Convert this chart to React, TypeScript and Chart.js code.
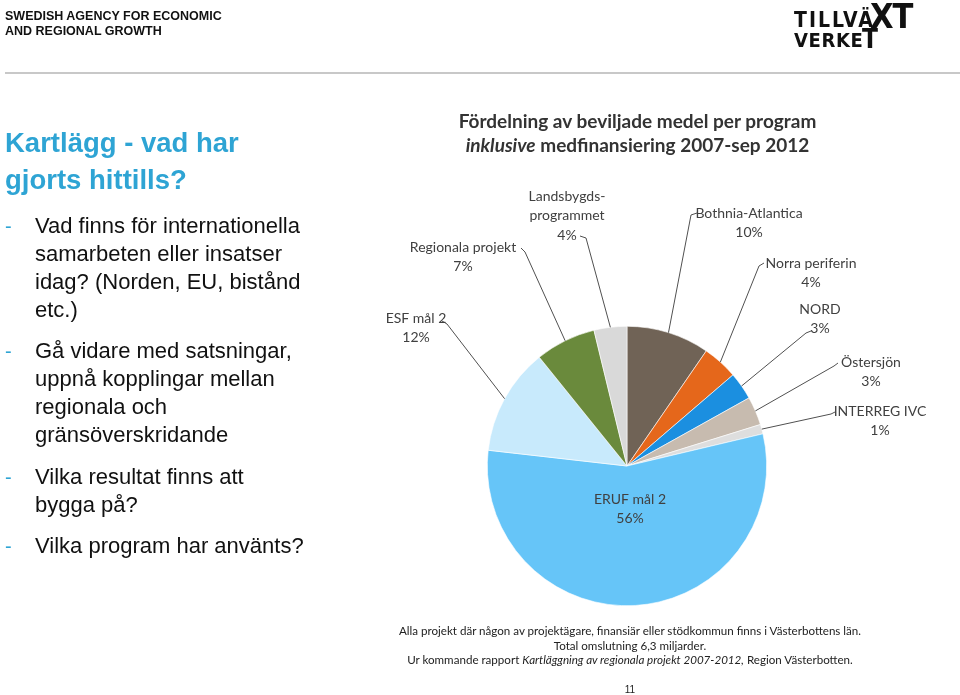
import React, { useEffect, useRef } from "react";
import { Chart, registerables } from "chart.js";

Chart.register(...registerables);

const categories = [
  "Bothnia-Atlantica",
  "Norra periferin",
  "NORD",
  "Östersjön",
  "INTERREG IVC",
  "ERUF mål 2",
  "ESF mål 2",
  "Regionala projekt",
  "Landsbygdsprogrammet",
];
const shares = [9.6, 4.1, 3.2, 3.3, 1.1, 55.5, 12.4, 7.0, 3.8];
const pctLabels = ["10%", "4%", "3%", "3%", "1%", "56%", "12%", "7%", "4%"];
const labelLines = [
  ["Bothnia-Atlantica"],
  ["Norra periferin"],
  ["NORD"],
  ["Östersjön"],
  ["INTERREG IVC"],
  ["ERUF mål 2"],
  ["ESF mål 2"],
  ["Regionala projekt"],
  ["Landsbygds-", "programmet"],
];
const colors = [
  "#706356",
  "#e5671b",
  "#1b8fe0",
  "#c7bbaf",
  "#dedede",
  "#66c5f8",
  "#c8eafc",
  "#6a8a3c",
  "#d9d9d9",
];
// label placement relative to the pie centre (px): text centre of first line, hook start, hook end
const labelLayout = [
  { t: [122, -253], h: [[70, -253], [64, -251]] },
  { t: [184, -203], h: [[137, -203], [132, -200]] },
  { t: [193, -157], h: [[184, -135], [179, -133]] },
  { t: [244, -104], h: [[211, -103], [207, -100]] },
  { t: [253, -55], h: [[208, -54], [204, -52]] },
  { t: [3, 33], h: null },
  { t: [-211, -148], h: [[-185, -145], [-180, -142]] },
  { t: [-164, -219], h: [[-106, -218], [-102, -214]] },
  { t: [-60, -270], h: [[-47, -230], [-41, -228]] },
];

const chartFont = "Lato, 'Noto Sans', sans-serif";

const leaderPlugin = {
  id: "leaderLabels",
  afterDatasetsDraw(chart: any) {
    const ctx = chart.ctx;
    const meta = chart.getDatasetMeta(0);
    ctx.save();
    meta.data.forEach((arc: any, i: number) => {
      const p = arc.getProps(["x", "y", "startAngle", "endAngle", "outerRadius"], true);
      const mid = (p.startAngle + p.endAngle) / 2;
      const ex = p.x + Math.cos(mid) * p.outerRadius;
      const ey = p.y + Math.sin(mid) * p.outerRadius;
      const lay = labelLayout[i];
      if (lay.h) {
        ctx.beginPath();
        ctx.strokeStyle = "#505050";
        ctx.lineWidth = 1;
        ctx.moveTo(p.x + lay.h[0][0], p.y + lay.h[0][1]);
        ctx.lineTo(p.x + lay.h[1][0], p.y + lay.h[1][1]);
        ctx.lineTo(ex, ey);
        ctx.stroke();
      }
      const lines = [...labelLines[i], pctLabels[i]];
      ctx.fillStyle = "#404040";
      ctx.font = `14px ${chartFont}`;
      ctx.textAlign = "center";
      ctx.textBaseline = "middle";
      lines.forEach((ln, k) => {
        ctx.fillText(ln, p.x + lay.t[0], p.y + lay.t[1] + k * 19.5);
      });
    });
    ctx.restore();
  },
};

function PieChart() {
  const ref = useRef<HTMLCanvasElement | null>(null);
  useEffect(() => {
    if (!ref.current) return;
    const chart = new Chart(ref.current, {
      type: "pie",
      data: {
        labels: categories,
        datasets: [
          {
            data: shares,
            backgroundColor: colors,
            borderColor: "#ffffff",
            borderWidth: 0.6,
          },
        ],
      },
      options: {
        responsive: false,
        animation: false,
        layout: { padding: { left: 487, right: 193, top: 326, bottom: 89 } },
        plugins: {
          legend: { display: false },
          tooltip: { enabled: false },
          title: { display: false },
        },
      },
      plugins: [leaderPlugin],
    });
    return () => chart.destroy();
  }, []);
  return (
    <canvas
      ref={ref}
      width={960}
      height={695}
      style={{ position: "absolute", left: 0, top: 0, width: 960, height: 695 }}
    />
  );
}

const abs = (left: number, top: number, extra: any = {}) => ({
  position: "absolute" as const,
  left,
  top,
  whiteSpace: "nowrap" as const,
  ...extra,
});

const bulletGroups = [
  ["Vad finns för internationella", "samarbeten eller insatser", "idag? (Norden, EU, bistånd", "etc.)"],
  ["Gå vidare med satsningar,", "uppnå kopplingar mellan", "regionala och", "gränsöverskridande"],
  ["Vilka resultat finns att", "bygga på?"],
  ["Vilka program har använts?"],
];
const bulletTops = [212, 337, 463, 532];

export default function App() {
  const arial = "'Liberation Sans', Arial, sans-serif";
  const blue = "#2ea4d4";
  const logoFont = "'DejaVu Sans Condensed', 'DejaVu Sans', sans-serif";
  const logo = (left: number, top: number, fs: number, ls: number) =>
    abs(left, top, {
      fontFamily: logoFont,
      fontWeight: 700,
      color: "#111",
      fontSize: fs,
      lineHeight: `${fs}px`,
      letterSpacing: ls,
    });
  return (
    <div
      style={{
        position: "fixed",
        left: 0,
        top: 0,
        width: 960,
        height: 695,
        background: "#ffffff",
        overflow: "hidden",
        fontFamily: arial,
      }}
    >
      <PieChart />
      <div style={abs(5, 9, { fontSize: 12.5, fontWeight: 700, lineHeight: "15px", color: "#111" })}>
        SWEDISH AGENCY FOR ECONOMIC
        <br />
        AND REGIONAL GROWTH
      </div>
      {/* logo */}
      <div style={logo(794, 10, 21, 2)}>TILLVÄ</div>
      <div style={logo(870, -1, 34, -1)}>XT</div>
      <div style={logo(794, 30, 20, 0.6)}>VERKE</div>
      <div style={logo(862, 26, 26, 0)}>T</div>
      <div style={abs(5, 72, { width: 955, height: 1.5, background: "#c8c8c8" })} />

      <div style={abs(5, 124, { fontSize: 27.5, fontWeight: 700, lineHeight: "37px", color: blue })}>
        Kartlägg - vad har
        <br />
        gjorts hittills?
      </div>

      {bulletGroups.map((g, gi) => (
        <div key={gi}>
          <div style={abs(5, bulletTops[gi], { fontSize: 20, lineHeight: "28px", color: blue })}>-</div>
          <div style={abs(35, bulletTops[gi], { fontSize: 22, lineHeight: "28px", color: "#111" })}>
            {g.map((l, li) => (
              <div key={li}>{l}</div>
            ))}
          </div>
        </div>
      ))}

      <div
        style={abs(375, 109, {
          width: 525,
          textAlign: "center",
          fontFamily: chartFont,
          fontWeight: 700,
          fontSize: 19,
          lineHeight: "24px",
          color: "#333",
        })}
      >
        Fördelning av beviljade medel per program
        <br />
        <i>inklusive</i> medfinansiering 2007-sep 2012
      </div>

      <div
        style={abs(370, 624, {
          width: 520,
          textAlign: "center",
          fontFamily: chartFont,
          fontSize: 11.6,
          lineHeight: "14.5px",
          color: "#222",
        })}
      >
        Alla projekt där någon av projektägare, finansiär eller stödkommun finns i Västerbottens län.
        <br />
        Total omslutning 6,3 miljarder.
        <br />
        Ur kommande rapport <i>Kartläggning av regionala projekt 2007-2012,</i> Region Västerbotten.
      </div>
      <div style={abs(600, 684, { width: 60, textAlign: "center", fontSize: 10, color: "#222" })}>11</div>
    </div>
  );
}
